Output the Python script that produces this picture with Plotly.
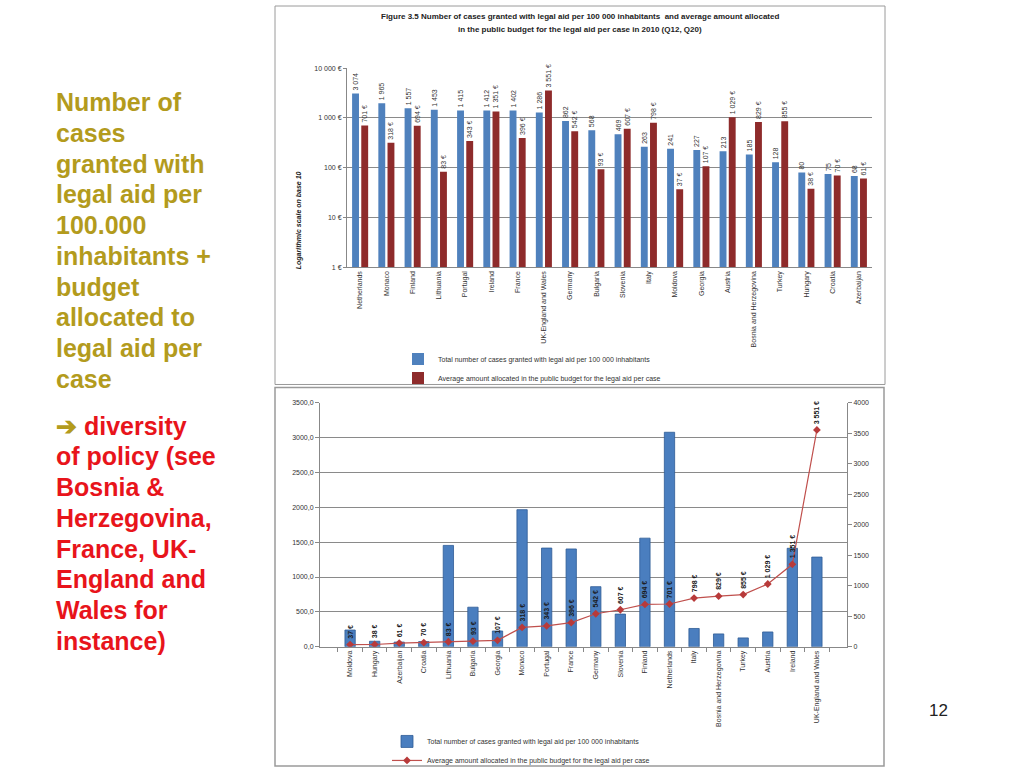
import plotly.graph_objects as go

# ---------------- data ----------------
top_countries = ["Netherlands", "Monaco", "Finland", "Lithuania", "Portugal", "Ireland", "France",
                 "UK-England and Wales", "Germany", "Bulgaria", "Slovenia", "Italy", "Moldova",
                 "Georgia", "Austria", "Bosnia and Herzegovina", "Turkey", "Hungary", "Croatia",
                 "Azerbaijan"]
top_cases = [3074, 1965, 1557, 1453, 1415, 1412, 1402, 1286, 862, 568, 469, 263, 241, 227, 213,
             185, 128, 80, 75, 68]
top_amount = [701, 318, 694, 83, 343, 1351, 396, 3551, 542, 93, 607, 798, 37, 107, 1029, 829,
              855, 38, 70, 61]

bot_countries = ["Moldova", "Hungary", "Azerbaijan", "Croatia", "Lithuania", "Bulgaria", "Georgia",
                 "Monaco", "Portugal", "France", "Germany", "Slovenia", "Finland", "Netherlands",
                 "Italy", "Bosnia and Herzegovina", "Turkey", "Austria", "Ireland",
                 "UK-England and Wales"]
bot_cases = [241, 80, 68, 75, 1453, 568, 227, 1965, 1415, 1402, 862, 469, 1557, 3074, 263, 185,
             128, 213, 1412, 1286]
bot_amount = [37, 38, 61, 70, 83, 93, 107, 318, 343, 396, 542, 607, 694, 701, 798, 829, 855,
              1029, 1351, 3551]

log_tickvals = [1, 10, 100, 1000, 10000]
log_ticktext = ["1 €", "10 €", "100 €", "1 000 €", "10 000 €"]
left_tickvals = [0, 500, 1000, 1500, 2000, 2500, 3000, 3500]
left_ticktext = ["0,0", "500,0", "1000,0", "1500,0", "2000,0", "2500,0", "3000,0", "3500,0"]
right_tickvals = [0, 500, 1000, 1500, 2000, 2500, 3000, 3500, 4000]

title_lines = ["Number of", "cases", "granted with", "legal aid per", "100.000",
               "inhabitants +", "budget", "allocated to", "legal aid per", "case"]
policy_lines = ["diversity", "of policy (see", "Bosnia &", "Herzegovina,", "France, UK-",
                "England and", "Wales for", "instance)"]

fig_title_lines = ["Figure 3.5 Number of cases granted with legal aid per 100 000 inhabitants  and average amount allocated",
                   "in the public budget for the legal aid per case in 2010 (Q12, Q20)"]


def fmt(v):
    return f"{v:,}".replace(",", " ")


W, H = 1024, 776
px = lambda x: x / 1024
py = lambda y: 1 - y / 768

FONT = "Liberation Sans Narrow, Liberation Sans, Arial, sans-serif"
OLIVE = "#B39B1D"
RED = "#E8141B"

fig = go.Figure()

# ---------------- top chart ----------------
fig.add_trace(go.Bar(
    x=top_countries, y=top_cases, name="Total number of cases granted with legal aid per 100 000 inhabitants",
    marker=dict(color="#4F81BD", line=dict(width=0)),
    text=[fmt(v) for v in top_cases], textposition="outside", textangle=-90,
    constraintext="none", cliponaxis=False, textfont=dict(size=7, color="#333", family=FONT),
    xaxis="x", yaxis="y", legend="legend"))
fig.add_trace(go.Bar(
    x=top_countries, y=top_amount, name="Average amount allocated in the public budget for the legal aid per case",
    marker=dict(color="#8E2B2B", line=dict(width=0)),
    text=[fmt(v) + " €" for v in top_amount], textposition="outside", textangle=-90,
    constraintext="none", cliponaxis=False, textfont=dict(size=7, color="#333", family=FONT),
    xaxis="x", yaxis="y", legend="legend"))

# ---------------- bottom chart ----------------
fig.add_trace(go.Bar(
    x=bot_countries, y=bot_cases, name="Total number of cases granted with legal aid per 100 000 inhabitants",
    marker=dict(color="#4A7EBF", line=dict(width=0.8, color="#2E5C96")), width=0.42,
    xaxis="x2", yaxis="y2", legend="legend2"))
fig.add_trace(go.Scatter(
    x=bot_countries, y=bot_amount, mode="lines+markers",
    name="Average amount allocated in the public budget for the legal aid per case",
    line=dict(color="#C0504D", width=1.2),
    marker=dict(symbol="diamond", size=6, color="#B83A3A"),
    xaxis="x2", yaxis="y3", legend="legend2"))

annotations = []
for c, v in zip(bot_countries, bot_amount):
    annotations.append(dict(x=c, y=v, xref="x2", yref="y3", text=f"<b>{fmt(v)} €</b>",
                            textangle=-90, yanchor="bottom", xanchor="center", yshift=4,
                            showarrow=False, font=dict(size=7, color="#1a1a1a", family=FONT)))

# chart titles / axis titles
for i, t in enumerate(fig_title_lines):
    annotations.append(dict(x=px(580), y=py(12 + i * 13), xref="paper", yref="paper", text=f"<b>{t}</b>",
                            showarrow=False, xanchor="center", yanchor="middle",
                            font=dict(size=8, color="#222", family=FONT)))
annotations.append(dict(x=px(293), y=py(165), xref="paper", yref="paper",
                        text="<b><i>Logarithmic scale on base 10</i></b>", textangle=-90,
                        showarrow=False, font=dict(size=7, color="#222", family=FONT)))

# left slide text
for i, t in enumerate(title_lines):
    annotations.append(dict(x=px(54), y=py(98 + i * 30.7), xref="paper", yref="paper", text=f"<b>{t}</b>",
                            showarrow=False, xanchor="left", yanchor="middle",
                            font=dict(size=25, color=OLIVE, family="Liberation Sans, Arial")))
for i, t in enumerate(policy_lines):
    txt = f"<b>{t}</b>" if i else f"<b><span style='color:{OLIVE}'>➔</span> {t}</b>"
    annotations.append(dict(x=px(54), y=py(421 + i * 30.7), xref="paper", yref="paper", text=txt,
                            showarrow=False, xanchor="left", yanchor="middle",
                            font=dict(size=25, color=RED, family="Liberation Sans, Arial")))
annotations.append(dict(x=px(950), y=py(717), xref="paper", yref="paper", text="12", showarrow=False,
                        font=dict(size=17, color="#222", family="Liberation Sans, Arial")))

shapes = [
    dict(type="rect", xref="paper", yref="paper", x0=px(275), x1=px(885), y0=py(380), y1=py(2),
         line=dict(color="#9a9a9a", width=1)),
    dict(type="rect", xref="paper", yref="paper", x0=px(275), x1=px(884), y0=py(761), y1=py(383),
         line=dict(color="#9a9a9a", width=1.5)),
]

axfont = dict(size=7, color="#333", family=FONT)
fig.update_layout(
    width=W, height=H, autosize=False, margin=dict(l=0, r=0, t=0, b=0, pad=0),
    paper_bgcolor="white", plot_bgcolor="white",
    barmode="group", bargap=0.3, bargroupgap=0.25,
    font=dict(family=FONT),
    xaxis=dict(domain=[px(347), px(872)], anchor="y", tickangle=-90, tickfont=axfont,
               showline=True, linecolor="#888", ticks="", showgrid=False),
    yaxis=dict(domain=[py(263), py(64)], anchor="x", type="log", range=[0, 4],
               tickvals=log_tickvals, ticktext=log_ticktext, tickfont=axfont,
               showgrid=True, gridcolor="#8a8a8a", gridwidth=1, showline=True, linecolor="#888",
               ticks="outside", ticklen=3, tickcolor="#888"),
    xaxis2=dict(domain=[px(320), px(847)], anchor="y2", tickangle=-90, tickfont=axfont,
                showline=True, linecolor="#888", ticks="outside", ticklen=4, tickcolor="#888",
                tickson="boundaries", showgrid=False),
    yaxis2=dict(domain=[py(642), py(398)], anchor="x2", range=[0, 3500],
                tickvals=left_tickvals, ticktext=left_ticktext, tickfont=axfont,
                showgrid=True, gridcolor="#8a8a8a", gridwidth=1, showline=True, linecolor="#888",
                ticks="outside", ticklen=4, tickcolor="#888", zeroline=False),
    yaxis3=dict(overlaying="y2", side="right", anchor="x2", range=[0, 4000],
                tickvals=right_tickvals, tickfont=axfont, showgrid=False, showline=True,
                linecolor="#888", ticks="outside", ticklen=4, tickcolor="#888", zeroline=False),
    legend=dict(x=px(398), y=py(340), xanchor="left", yanchor="top", orientation="v",
                font=dict(size=7, color="#333", family=FONT), bgcolor="rgba(0,0,0,0)",
                itemwidth=30, tracegroupgap=0),
    legend2=dict(x=px(387), y=py(722), xanchor="left", yanchor="top", orientation="v",
                 font=dict(size=7, color="#333", family=FONT), bgcolor="rgba(0,0,0,0)",
                 itemwidth=30, tracegroupgap=0),
    annotations=annotations, shapes=shapes,
)

fig.write_html("out.html",
               config={"displayModeBar": False, "responsive": False},
               post_script="document.body.style.margin='0';document.body.style.overflow='hidden';")
